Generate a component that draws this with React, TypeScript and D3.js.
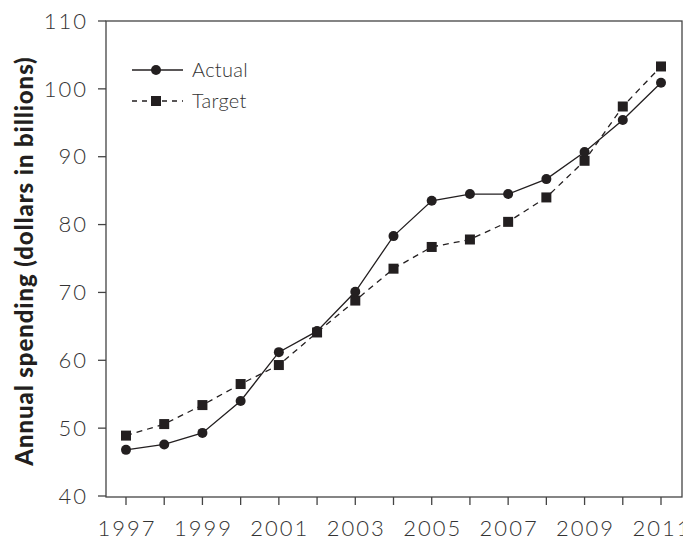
import React, { useEffect, useRef } from "react";
import * as d3 from "d3";

const years = [1997, 1998, 1999, 2000, 2001, 2002, 2003, 2004, 2005, 2006, 2007, 2008, 2009, 2010, 2011];
const actual = [46.8, 47.6, 49.3, 54.0, 61.2, 64.3, 70.1, 78.3, 83.5, 84.5, 84.5, 86.7, 90.7, 95.4, 100.9];
const target = [48.9, 50.6, 53.4, 56.5, 59.3, 64.1, 68.8, 73.5, 76.7, 77.8, 80.4, 84.0, 89.4, 97.4, 103.3];
const yTicks = [40, 50, 60, 70, 80, 90, 100, 110];
const xLabelYears = [1997, 1999, 2001, 2003, 2005, 2007, 2009, 2011];
const seriesNames = ["Actual", "Target"];
const yTitle = "Annual spending (dollars in billions)";

const W = 683, H = 540;
const M = { left: 106, right: 682, top: 21, bottom: 497 };
const FONT = "Lato, 'DejaVu Sans', sans-serif";

export default function App() {
  const ref = useRef<SVGSVGElement>(null);
  useEffect(() => {
    const svg = d3.select(ref.current);
    svg.selectAll("*").remove();
    const x = d3.scaleLinear().domain([1997, 2011]).range([126, 661]);
    const y = d3.scaleLinear().domain([40, 110]).range([M.bottom - 1, M.top]);
    const ink = "#231f20";

    // frame
    svg.append("rect").attr("x", M.left).attr("y", M.top).attr("width", M.right - M.left).attr("height", M.bottom - M.top)
      .attr("fill", "none").attr("stroke", "#444").attr("stroke-width", 1.3);

    // y ticks
    const yg = svg.append("g");
    yTicks.forEach((t) => {
      yg.append("line").attr("x1", M.left - 8).attr("x2", M.left).attr("y1", y(t)).attr("y2", y(t)).attr("stroke", "#444").attr("stroke-width", 1.3);
      yg.append("text").attr("x", M.left - 18).attr("y", y(t)).attr("dy", "0.35em").attr("text-anchor", "end")
        .attr("font-family", FONT).attr("font-weight", 300).attr("font-size", 22).attr("letter-spacing", 2)
        .attr("fill", "#333").text(String(t));
    });

    // x ticks
    const xg = svg.append("g");
    years.forEach((yr) => {
      xg.append("line").attr("x1", x(yr)).attr("x2", x(yr)).attr("y1", M.bottom).attr("y2", M.bottom + 8).attr("stroke", "#444").attr("stroke-width", 1.3);
    });
    xLabelYears.forEach((yr) => {
      xg.append("text").attr("x", x(yr) + 1).attr("y", 536).attr("text-anchor", "middle")
        .attr("font-family", FONT).attr("font-weight", 300).attr("font-size", 22).attr("letter-spacing", 2)
        .attr("fill", "#333").text(String(yr));
    });

    // y title
    svg.append("text").attr("transform", `translate(33, ${261}) rotate(-90)`).attr("text-anchor", "middle")
      .attr("font-family", FONT).attr("font-weight", 900).attr("font-size", 24).attr("letter-spacing", 0.9)
      .attr("fill", ink).text(yTitle);

    const line = d3.line<number>().x((_, i) => x(years[i])).y((d) => y(d));

    svg.append("path").attr("d", line(target)).attr("fill", "none").attr("stroke", ink).attr("stroke-width", 1.3).attr("stroke-dasharray", "6,5");
    svg.append("path").attr("d", line(actual)).attr("fill", "none").attr("stroke", ink).attr("stroke-width", 1.3);

    svg.append("g").selectAll("rect").data(target).join("rect")
      .attr("x", (_, i) => x(years[i]) - 5).attr("y", (d) => y(d) - 5).attr("width", 10).attr("height", 10).attr("fill", ink);
    svg.append("g").selectAll("circle").data(actual).join("circle")
      .attr("cx", (_, i) => x(years[i])).attr("cy", (d) => y(d)).attr("r", 5).attr("fill", ink);

    // legend
    const lg = svg.append("g");
    lg.append("line").attr("x1", 132).attr("x2", 183).attr("y1", 70).attr("y2", 70).attr("stroke", ink).attr("stroke-width", 1.3);
    lg.append("circle").attr("cx", 156).attr("cy", 70).attr("r", 5).attr("fill", ink);
    lg.append("text").attr("x", 192).attr("y", 70).attr("dy", "0.35em").attr("font-family", FONT).attr("font-weight", 300)
      .attr("font-size", 20).attr("letter-spacing", 0.3).attr("fill", "#333").text(seriesNames[0]);
    lg.append("line").attr("x1", 132).attr("x2", 183).attr("y1", 101).attr("y2", 101).attr("stroke", ink).attr("stroke-width", 1.3).attr("stroke-dasharray", "5,5");
    lg.append("rect").attr("x", 151).attr("y", 96).attr("width", 10).attr("height", 10).attr("fill", ink);
    lg.append("text").attr("x", 192).attr("y", 101).attr("dy", "0.35em").attr("font-family", FONT).attr("font-weight", 300)
      .attr("font-size", 20).attr("letter-spacing", 0.3).attr("fill", "#333").text(seriesNames[1]);
  }, []);
  return (
    <svg ref={ref} width={W} height={H} style={{ position: "absolute", left: 0, top: 0, background: "#fff" }} />
  );
}
